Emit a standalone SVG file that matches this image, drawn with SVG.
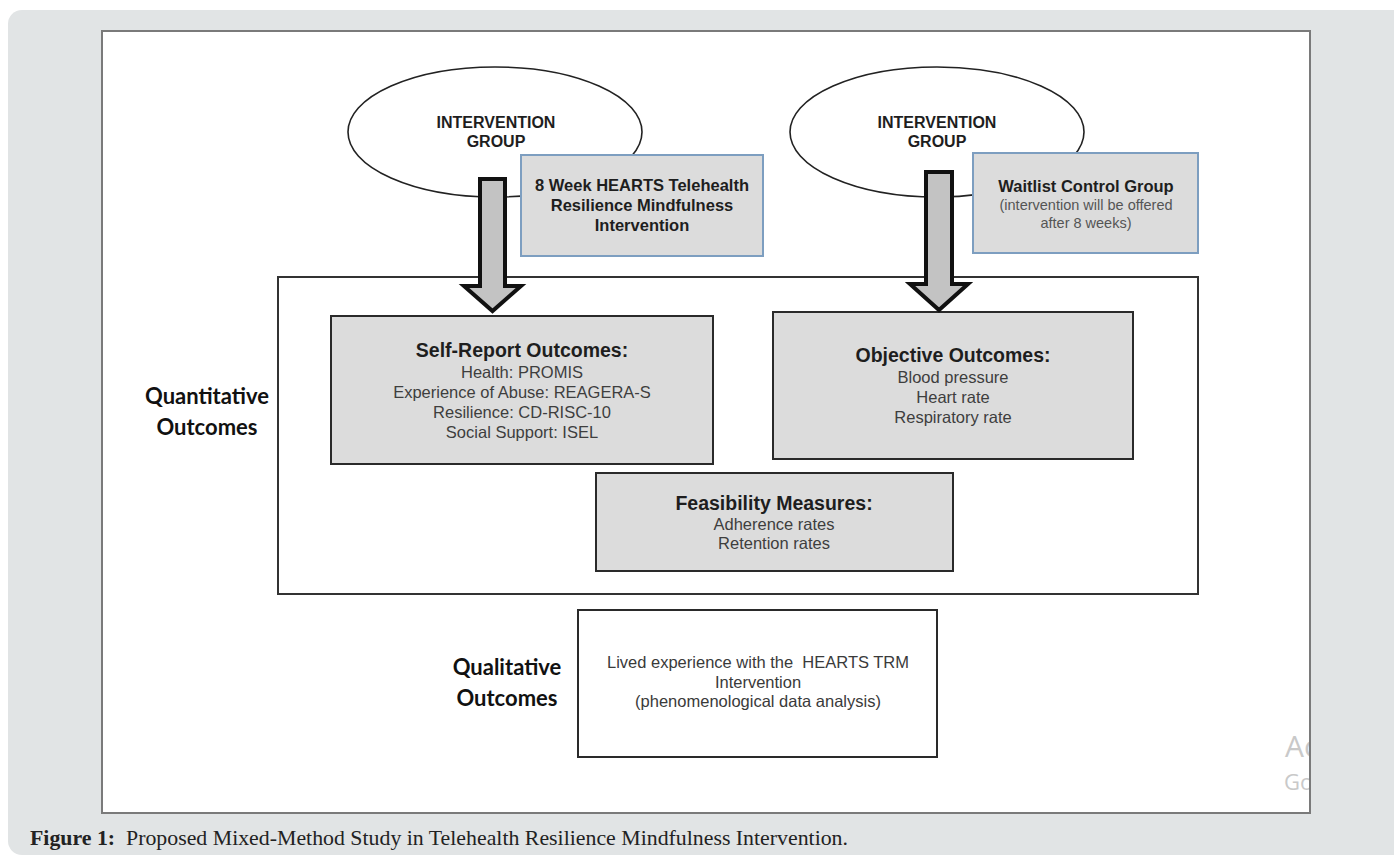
<svg xmlns="http://www.w3.org/2000/svg" width="1394" height="857" viewBox="0 0 1394 857">
<defs>
<style>
.t{font-family:"Liberation Sans",Arial,sans-serif;text-anchor:middle}
.b{font-weight:bold;fill:#1e1e1e}
.r{fill:#3e3e3e}
.box{fill:#dcdcdc;stroke:#2a2a2a;stroke-width:2}
.topbox{fill:#dcdcdc;stroke:#7d9ec0;stroke-width:2}
.ell{fill:#fff;stroke:#222;stroke-width:1.6}
.arrow{fill:#c3c3c3;stroke:#111;stroke-width:4;stroke-linejoin:miter}
.lbl{font-family:Lato,"Open Sans",sans-serif;font-weight:bold;font-size:22px;fill:#111;text-anchor:middle}
.wm{font-family:"Open Sans","Noto Sans",sans-serif;fill:#c9c9c9}
</style>
<clipPath id="fclip"><rect x="102" y="31" width="1207" height="781"/></clipPath>
</defs>
<rect x="0" y="0" width="1394" height="857" fill="#fff"/>
<rect x="8" y="10" width="1400" height="845" rx="14" fill="#e1e4e5"/>
<rect id="frame" x="102" y="31" width="1208" height="782" fill="#fff" stroke="#7a7a7a" stroke-width="2"/>

<g id="quantitative-area">
<rect x="278" y="277" width="920" height="317" fill="none" stroke="#333" stroke-width="2"/>
<text class="lbl" x="207" y="404">Quantitative</text>
<text class="lbl" x="207" y="435">Outcomes</text>
</g>

<g id="intervention-group-1">
<ellipse class="ell" cx="495" cy="132" rx="147" ry="65"/>
<text class="t b" x="496" y="128" font-size="16">INTERVENTION</text>
<text class="t b" x="496" y="147" font-size="16">GROUP</text>
</g>
<g id="intervention-box">
<rect class="topbox" x="521" y="155" width="242" height="101"/>
<text class="t b" x="642" y="191" font-size="16.5">8 Week HEARTS Telehealth</text>
<text class="t b" x="642" y="211" font-size="16.5">Resilience Mindfulness</text>
<text class="t b" x="642" y="231" font-size="16.5">Intervention</text>
</g>

<g id="intervention-group-2">
<ellipse class="ell" cx="937" cy="132" rx="147" ry="65"/>
<text class="t b" x="937" y="128" font-size="16">INTERVENTION</text>
<text class="t b" x="937" y="147" font-size="16">GROUP</text>
</g>
<g id="waitlist-box">
<rect class="topbox" x="973" y="153" width="225" height="100"/>
<text class="t b" x="1086" y="192" font-size="16.5">Waitlist Control Group</text>
<text class="t" x="1086" y="210" font-size="14.5" fill="#555">(intervention will be offered</text>
<text class="t" x="1086" y="228" font-size="14.5" fill="#555">after 8 weeks)</text>
</g>

<g id="self-report">
<rect class="box" x="331" y="316" width="382" height="148"/>
<text class="t b" x="522" y="357" font-size="19.5">Self-Report Outcomes:</text>
<text class="t r" x="522" y="378" font-size="16.5">Health: PROMIS</text>
<text class="t r" x="522" y="398" font-size="16.5">Experience of Abuse: REAGERA-S</text>
<text class="t r" x="522" y="418" font-size="16.5">Resilience: CD-RISC-10</text>
<text class="t r" x="522" y="438" font-size="16.5">Social Support: ISEL</text>
</g>

<g id="objective">
<rect class="box" x="773" y="312" width="360" height="147"/>
<text class="t b" x="953" y="362" font-size="19.5">Objective Outcomes:</text>
<text class="t r" x="953" y="383" font-size="16.5">Blood pressure</text>
<text class="t r" x="953" y="403" font-size="16.5">Heart rate</text>
<text class="t r" x="953" y="423" font-size="16.5">Respiratory rate</text>
</g>

<g id="feasibility">
<rect class="box" x="596" y="473" width="357" height="98"/>
<text class="t b" x="774" y="510" font-size="19.5">Feasibility Measures:</text>
<text class="t r" x="774" y="530" font-size="16.5">Adherence rates</text>
<text class="t r" x="774" y="549" font-size="16.5">Retention rates</text>
</g>

<g id="qualitative">
<text class="lbl" x="507" y="675">Qualitative</text>
<text class="lbl" x="507" y="706">Outcomes</text>
<rect x="578" y="610" width="359" height="147" fill="#fff" stroke="#2a2a2a" stroke-width="2"/>
<text class="t" x="758" y="668" font-size="16.5" fill="#3a3a3a" xml:space="preserve">Lived experience with the  HEARTS TRM</text>
<text class="t" x="758" y="688" font-size="16.5" fill="#3a3a3a">Intervention</text>
<text class="t" x="758" y="707" font-size="16.5" fill="#3a3a3a">(phenomenological data analysis)</text>
</g>

<g id="connectors">
<path class="arrow" d="M480,179 H505 V286 H521 L492.5,311 L464,286 H480 Z"/>
<path class="arrow" d="M926,172 H952 V284 H968 L939,310 L910,284 H926 Z"/>
</g>

<g id="watermark" clip-path="url(#fclip)">
<text class="wm" x="1285" y="757" font-size="30">Ac</text>
<text class="wm" x="1284" y="790" font-size="22">Go</text>
</g>

<text id="caption" x="30" y="845" font-family="'Liberation Serif','DejaVu Serif',serif" font-size="21" fill="#222" textLength="818" lengthAdjust="spacingAndGlyphs" xml:space="preserve"><tspan font-weight="bold">Figure 1:</tspan>  Proposed Mixed-Method Study in Telehealth Resilience Mindfulness Intervention.</text>
</svg>
